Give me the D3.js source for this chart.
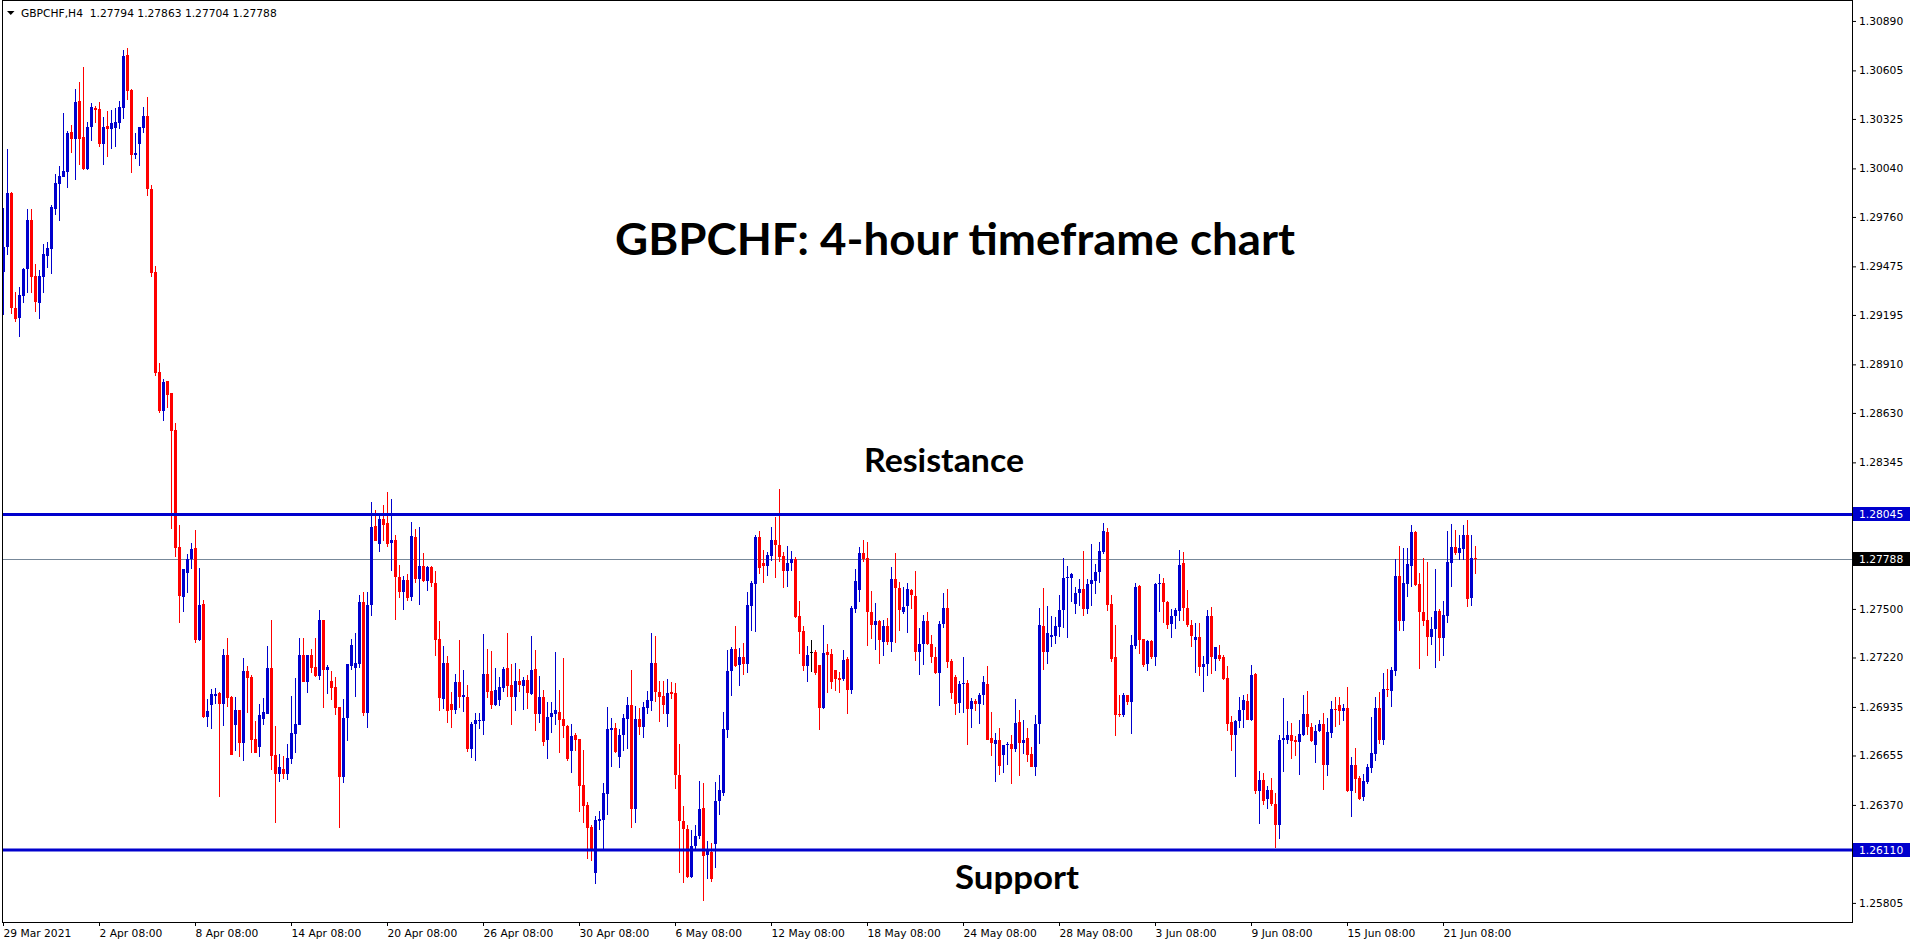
<!DOCTYPE html>
<html>
<head>
<meta charset="utf-8">
<script src="https://cdn.jsdelivr.net/npm/d3@7"></script>
<style>
  html, body { margin: 0; padding: 0; background: #ffffff; }
  svg { display: block; }
</style>
</head>
<body>
<svg id="chart" width="1916" height="946"></svg>
<script>
// ---------------- DATA ----------------
const symbolLabel = "GBPCHF,H4";
const lastQuote = [1.27794, 1.27863, 1.27704, 1.27788];
const chartTitle = "GBPCHF: 4-hour timeframe chart";
const resistanceLevel = 1.28045;
const supportLevel = 1.26110;
const currentPrice = 1.27788;

const opens = [
1.29443,1.29587,1.29898,1.29235,1.29178,1.29305,1.29461,1.29743,1.29420,1.29264,
1.29414,1.29535,1.29576,1.29806,1.29950,1.29991,1.30019,1.30250,1.30210,1.30429,
1.30221,1.30037,1.30279,1.30388,1.30383,1.30181,1.30285,1.30267,1.30273,1.30302,
1.30388,1.30694,1.30492,1.30117,1.30181,1.30273,1.30342,1.29921,1.29443,1.28866,
1.28642,1.28815,1.28745,1.28532,1.27858,1.27569,1.27708,1.27788,1.27852,1.27321,
1.27529,1.26877,1.26947,1.26999,1.27016,1.26953,1.27235,1.26993,1.26831,1.26918,
1.26728,1.27143,1.27108,1.26751,1.26705,1.26866,1.26895,1.27160,1.26658,1.26549,
1.26578,1.26549,1.26635,1.26780,1.26831,1.27235,1.27079,1.27235,1.27166,1.27114,
1.27437,1.27149,1.27085,1.27051,1.26935,1.26530,1.26872,1.27170,1.27160,1.27180,
1.27538,1.26902,1.27522,1.27981,1.27876,1.28021,1.27995,1.27882,1.27896,1.27683,
1.27597,1.27667,1.27568,1.27915,1.27671,1.27746,1.27661,1.27740,1.27647,1.27325,
1.26981,1.27186,1.26951,1.26915,1.27080,1.26991,1.26995,1.26693,1.26836,1.26852,
1.26852,1.27124,1.27025,1.26945,1.26975,1.27045,1.27158,1.27061,1.26995,1.27085,
1.27055,1.27090,1.27011,1.27154,1.26896,1.26991,1.26743,1.26876,1.26892,1.26906,
1.26866,1.26826,1.26683,1.26772,1.26749,1.26482,1.26367,1.26242,1.25977,1.26279,
1.26285,1.26434,1.26802,1.26816,1.26647,1.26772,1.26868,1.26945,1.26345,1.26866,
1.26822,1.26931,1.26971,1.27190,1.27021,1.26999,1.26896,1.27021,1.27015,1.26544,
1.26275,1.26232,1.25957,1.26132,1.26192,1.26355,1.26081,1.26096,1.26146,1.26395,
1.26440,1.26802,1.27140,1.27269,1.27174,1.27224,1.27180,1.27518,1.27641,1.27915,
1.27766,1.27750,1.27806,1.27898,1.27870,1.27806,1.27717,1.27762,1.27790,1.27458,
1.27373,1.27170,1.27250,1.27254,1.27174,1.26931,1.27250,1.27240,1.27146,1.27100,
1.27094,1.27210,1.27031,1.27502,1.27611,1.27820,1.27796,1.27484,1.27405,1.27428,
1.27309,1.27399,1.27309,1.27671,1.27621,1.27482,1.27518,1.27607,1.27574,1.27250,
1.27299,1.27432,1.27299,1.27224,1.27130,1.27415,1.27504,1.27200,1.27110,1.26955,
1.27065,1.27071,1.26921,1.26971,1.26951,1.27001,1.27065,1.26753,1.26723,1.26747,
1.26657,1.26713,1.26719,1.26693,1.26846,1.26729,1.26753,1.26663,1.26589,1.26836,
1.27399,1.27254,1.27339,1.27345,1.27393,1.27492,1.27677,1.27677,1.27528,1.27593,
1.27613,1.27498,1.27641,1.27661,1.27711,1.27826,1.27945,1.27528,1.27224,1.26896,
1.26888,1.27005,1.26961,1.27289,1.27631,1.27325,1.27180,1.27313,1.27224,1.27641,
1.27651,1.27542,1.27412,1.27458,1.27488,1.27762,1.27508,1.27405,1.27319,1.27339,
1.27166,1.27180,1.27462,1.27214,1.27236,1.27220,1.27100,1.26846,1.26772,1.26852,
1.26915,1.26971,1.26862,1.27124,1.26448,1.26514,1.26405,1.26454,1.26375,1.26252,
1.26743,1.26743,1.26772,1.26743,1.26733,1.26772,1.26892,1.26822,1.26717,1.26796,
1.26836,1.26603,1.26782,1.26921,1.26945,1.26912,1.26927,1.26450,1.26599,1.26524,
1.26415,1.26504,1.26583,1.26663,1.26927,1.26743,1.27037,1.27027,1.27140,1.27691,
1.27428,1.27643,1.27746,1.27945,1.27643,1.27484,1.27434,1.27339,1.27385,1.27488,
1.27333,1.27458,1.27766,1.27856,1.27820,1.27846,1.27925,1.27564,1.27794
];

const highs = [
1.29812,1.30152,1.29905,1.29328,1.29356,1.29466,1.29806,1.29806,1.29489,1.29454,
1.29604,1.29616,1.29829,1.30008,1.30054,1.30360,1.30256,1.30290,1.30498,1.30538,
1.30625,1.30308,1.30417,1.30400,1.30423,1.30336,1.30371,1.30377,1.30388,1.30429,
1.30723,1.30734,1.30498,1.30244,1.30279,1.30394,1.30452,1.29944,1.29478,1.28918,
1.28826,1.28815,1.28745,1.28572,1.27984,1.27731,1.27817,1.27881,1.27956,1.27737,
1.27552,1.26981,1.27039,1.27045,1.27022,1.27270,1.27333,1.26999,1.26993,1.26918,
1.27218,1.27172,1.27120,1.26855,1.26953,1.26987,1.27287,1.27437,1.26826,1.26664,
1.26653,1.26722,1.26999,1.27102,1.27333,1.27333,1.27235,1.27270,1.27333,1.27494,
1.27437,1.27177,1.27143,1.27108,1.26935,1.26981,1.27180,1.27325,1.27359,1.27578,
1.27597,1.27597,1.28118,1.28071,1.28055,1.28098,1.28174,1.28134,1.27925,1.27752,
1.27691,1.27701,1.28001,1.27959,1.27975,1.27822,1.27750,1.27746,1.27721,1.27428,
1.27289,1.27230,1.27021,1.27126,1.27319,1.27146,1.27061,1.26846,1.26898,1.26898,
1.27353,1.27269,1.27255,1.27158,1.27110,1.27166,1.27359,1.27180,1.27186,1.27154,
1.27106,1.27120,1.27343,1.27263,1.27116,1.27031,1.26961,1.26961,1.27250,1.27031,
1.27216,1.26832,1.26836,1.26782,1.26749,1.26687,1.26385,1.26256,1.26305,1.26335,
1.26494,1.26935,1.26872,1.26842,1.26808,1.26896,1.26995,1.27146,1.26941,1.26931,
1.26965,1.27025,1.27359,1.27343,1.27085,1.27087,1.27098,1.27080,1.27075,1.26719,
1.26361,1.26256,1.26226,1.26256,1.26508,1.26498,1.26162,1.26150,1.26504,1.26544,
1.26908,1.27265,1.27283,1.27403,1.27273,1.27303,1.27597,1.27661,1.27925,1.27951,
1.27842,1.27830,1.27975,1.28031,1.28194,1.27826,1.27860,1.27836,1.27800,1.27544,
1.27399,1.27285,1.27319,1.27265,1.27174,1.27408,1.27299,1.27269,1.27146,1.27134,
1.27263,1.27220,1.27518,1.27731,1.27856,1.27900,1.27886,1.27603,1.27532,1.27438,
1.27438,1.27448,1.27740,1.27822,1.27657,1.27627,1.27647,1.27617,1.27717,1.27389,
1.27464,1.27482,1.27349,1.27279,1.27428,1.27591,1.27617,1.27214,1.27120,1.27085,
1.27224,1.27090,1.26987,1.26981,1.27015,1.27114,1.27170,1.26908,1.26782,1.26812,
1.26713,1.26733,1.26772,1.26981,1.26915,1.26862,1.26816,1.26703,1.26886,1.27508,
1.27623,1.27518,1.27462,1.27452,1.27578,1.27796,1.27750,1.27707,1.27627,1.27671,
1.27832,1.27671,1.27872,1.27760,1.27886,1.27995,1.27965,1.27578,1.27408,1.27005,
1.27017,1.27005,1.27349,1.27651,1.27637,1.27325,1.27319,1.27319,1.27647,1.27701,
1.27677,1.27548,1.27502,1.27508,1.27840,1.27826,1.27607,1.27438,1.27418,1.27418,
1.27230,1.27494,1.27514,1.27283,1.27293,1.27234,1.27170,1.26882,1.26862,1.26991,
1.27001,1.27007,1.27178,1.27130,1.26568,1.26554,1.26478,1.26524,1.26438,1.26772,
1.26985,1.26852,1.26842,1.26768,1.26858,1.27001,1.27025,1.26842,1.26832,1.26858,
1.26898,1.26872,1.26971,1.26995,1.26995,1.26951,1.27051,1.26649,1.26697,1.26538,
1.26548,1.26607,1.26876,1.26995,1.27021,1.27130,1.27154,1.27166,1.27786,1.27862,
1.27850,1.27850,1.27985,1.27949,1.27707,1.27796,1.27770,1.27452,1.27731,1.27498,
1.27544,1.27949,1.27989,1.27955,1.27925,1.27985,1.28011,1.27925,1.27863
];

const lows = [
1.29195,1.29541,1.29201,1.29155,1.29068,1.29264,1.29322,1.29322,1.29212,1.29172,
1.29322,1.29466,1.29431,1.29772,1.29737,1.29991,1.29927,1.30129,1.29973,1.30060,
1.30031,1.30031,1.30198,1.30302,1.30164,1.30060,1.30106,1.30152,1.30164,1.30267,
1.30325,1.30435,1.30014,1.30094,1.30054,1.30244,1.29881,1.29414,1.28843,1.28630,
1.28584,1.28659,1.27961,1.27800,1.27419,1.27483,1.27592,1.27731,1.27304,1.27316,
1.26872,1.26820,1.26808,1.26953,1.26416,1.26826,1.26935,1.26658,1.26681,1.26647,
1.26624,1.26901,1.26670,1.26670,1.26647,1.26831,1.26895,1.26572,1.26266,1.26503,
1.26520,1.26514,1.26606,1.26670,1.26831,1.27079,1.27016,1.27131,1.27108,1.27091,
1.26929,1.27010,1.26976,1.26889,1.26238,1.26498,1.26739,1.27150,1.26991,1.27160,
1.26882,1.26816,1.27458,1.27890,1.27830,1.27894,1.27856,1.27717,1.27434,1.27564,
1.27492,1.27548,1.27548,1.27651,1.27524,1.27657,1.27603,1.27627,1.27230,1.26912,
1.26921,1.26842,1.26812,1.26892,1.26931,1.26906,1.26677,1.26643,1.26623,1.26808,
1.26772,1.26987,1.26925,1.26941,1.26941,1.27021,1.26991,1.26832,1.26912,1.27021,
1.26915,1.26921,1.27001,1.26796,1.26842,1.26709,1.26637,1.26782,1.26832,1.26669,
1.26753,1.26623,1.26554,1.26683,1.26329,1.26265,1.26061,1.26047,1.25914,1.26226,
1.26112,1.26311,1.26589,1.26669,1.26583,1.26683,1.26693,1.26236,1.26265,1.26772,
1.26753,1.26892,1.26912,1.26961,1.26848,1.26892,1.26822,1.26981,1.26460,1.25977,
1.25918,1.25947,1.25947,1.26116,1.26172,1.25818,1.25943,1.25928,1.26007,1.26311,
1.26419,1.26753,1.26997,1.27164,1.27057,1.27118,1.27130,1.27373,1.27369,1.27703,
1.27647,1.27687,1.27776,1.27677,1.27770,1.27621,1.27627,1.27717,1.27448,1.27240,
1.27144,1.27077,1.27134,1.27120,1.26802,1.26921,1.27015,1.27041,1.27027,1.27015,
1.27087,1.26896,1.27011,1.27478,1.27538,1.27772,1.27289,1.27325,1.27265,1.27184,
1.27230,1.27293,1.27250,1.27303,1.27375,1.27472,1.27363,1.27498,1.27200,1.27120,
1.27174,1.27293,1.27190,1.27126,1.26941,1.27389,1.27160,1.26981,1.26888,1.26902,
1.26902,1.26713,1.26816,1.26912,1.26836,1.26947,1.26743,1.26653,1.26504,1.26544,
1.26554,1.26599,1.26490,1.26673,1.26538,1.26663,1.26617,1.26587,1.26538,1.26723,
1.27150,1.27180,1.27283,1.27299,1.27339,1.27389,1.27333,1.27538,1.27472,1.27518,
1.27458,1.27468,1.27518,1.27587,1.27651,1.27816,1.27488,1.27194,1.26766,1.26876,
1.26876,1.26945,1.26778,1.27269,1.27240,1.27166,1.27140,1.27214,1.27170,1.27482,
1.27418,1.27385,1.27333,1.27383,1.27428,1.27428,1.27393,1.27279,1.27130,1.27116,
1.27021,1.27114,1.27124,1.27144,1.27200,1.27090,1.26796,1.26683,1.26530,1.26816,
1.26816,1.26862,1.26852,1.26434,1.26260,1.26369,1.26349,1.26361,1.26120,1.26176,
1.26558,1.26723,1.26637,1.26653,1.26540,1.26766,1.26776,1.26733,1.26609,1.26788,
1.26454,1.26534,1.26753,1.26822,1.26832,1.26852,1.26444,1.26299,1.26438,1.26399,
1.26395,1.26490,1.26554,1.26623,1.26723,1.26713,1.26991,1.26937,1.27116,1.27375,
1.27373,1.27568,1.27627,1.27631,1.27154,1.27399,1.27230,1.27293,1.27160,1.27200,
1.27230,1.27418,1.27627,1.27810,1.27780,1.27782,1.27512,1.27518,1.27704
];

const closes = [
1.29587,1.29898,1.29235,1.29172,1.29310,1.29461,1.29743,1.29414,1.29270,1.29420,
1.29547,1.29581,1.29818,1.29956,1.29996,1.30025,1.30244,1.30210,1.30423,1.30210,
1.30037,1.30279,1.30394,1.30377,1.30181,1.30279,1.30267,1.30302,1.30308,1.30394,
1.30688,1.30486,1.30117,1.30129,1.30279,1.30342,1.29921,1.29437,1.28861,1.28642,
1.28809,1.28734,1.28526,1.27852,1.27575,1.27731,1.27788,1.27846,1.27321,1.27523,
1.26877,1.26912,1.27010,1.27010,1.26953,1.27235,1.26987,1.26658,1.26918,1.26728,
1.27143,1.27102,1.26745,1.26670,1.26889,1.26906,1.27160,1.26653,1.26549,1.26589,
1.26549,1.26641,1.26785,1.26837,1.27235,1.27079,1.27235,1.27160,1.27114,1.27437,
1.27149,1.27166,1.27045,1.26930,1.26531,1.26872,1.27180,1.27293,1.27186,1.27538,
1.26902,1.27522,1.27975,1.27890,1.28021,1.27985,1.27876,1.27896,1.27683,1.27597,
1.27667,1.27564,1.27919,1.27671,1.27746,1.27661,1.27740,1.27647,1.27319,1.26987,
1.27186,1.26912,1.26915,1.27080,1.26991,1.27001,1.26693,1.26836,1.26858,1.26858,
1.27124,1.27021,1.26945,1.27035,1.27051,1.27154,1.27055,1.26995,1.27085,1.27061,
1.27090,1.27015,1.27150,1.26896,1.26991,1.26733,1.26876,1.26898,1.26915,1.26862,
1.26826,1.26637,1.26766,1.26743,1.26478,1.26363,1.26236,1.26112,1.26285,1.26291,
1.26438,1.26808,1.26816,1.26673,1.26776,1.26872,1.26945,1.26349,1.26866,1.26822,
1.26935,1.26975,1.27190,1.27021,1.26995,1.26947,1.27015,1.27011,1.26544,1.26275,
1.26232,1.25957,1.26132,1.26192,1.26349,1.26077,1.26106,1.25941,1.26395,1.26454,
1.26806,1.27140,1.27269,1.27170,1.27224,1.27180,1.27522,1.27647,1.27915,1.27737,
1.27746,1.27810,1.27898,1.27866,1.27802,1.27717,1.27766,1.27790,1.27452,1.27369,
1.27170,1.27236,1.27250,1.27130,1.26931,1.27244,1.27234,1.27080,1.27094,1.27090,
1.27204,1.27031,1.27508,1.27661,1.27820,1.27790,1.27484,1.27405,1.27428,1.27319,
1.27399,1.27309,1.27671,1.27621,1.27492,1.27514,1.27617,1.27578,1.27250,1.27299,
1.27432,1.27299,1.27224,1.27130,1.27415,1.27504,1.27194,1.27015,1.26951,1.27065,
1.27071,1.26921,1.26971,1.26951,1.27005,1.27077,1.26743,1.26727,1.26747,1.26593,
1.26713,1.26723,1.26693,1.26842,1.26729,1.26747,1.26657,1.26589,1.26838,1.27405,
1.27254,1.27363,1.27349,1.27399,1.27492,1.27677,1.27683,1.27701,1.27593,1.27617,
1.27498,1.27641,1.27667,1.27711,1.27832,1.27949,1.27524,1.27214,1.26888,1.26888,
1.27005,1.26965,1.27293,1.27627,1.27319,1.27174,1.27313,1.27220,1.27641,1.27651,
1.27538,1.27408,1.27462,1.27492,1.27756,1.27504,1.27405,1.27345,1.27339,1.27166,
1.27184,1.27462,1.27220,1.27279,1.27214,1.27094,1.26836,1.26772,1.26856,1.26915,
1.26975,1.26862,1.27120,1.26448,1.26514,1.26391,1.26454,1.26375,1.26252,1.26743,
1.26753,1.26772,1.26739,1.26733,1.26778,1.26892,1.26822,1.26737,1.26798,1.26836,
1.26603,1.26788,1.26921,1.26915,1.26912,1.26927,1.26450,1.26599,1.26518,1.26403,
1.26508,1.26587,1.26669,1.26927,1.26743,1.27037,1.27031,1.27146,1.27691,1.27428,
1.27651,1.27760,1.27945,1.27637,1.27482,1.27428,1.27339,1.27385,1.27488,1.27333,
1.27464,1.27770,1.27856,1.27822,1.27850,1.27925,1.27558,1.27792,1.27788
];

const priceTicks = [1.30890,1.30605,1.30325,1.30040,1.29760,1.29475,1.29195,1.28910,1.28630,
  1.28345,1.28065,1.27780,1.27500,1.27220,1.26935,1.26655,1.26370,1.26090,1.25805];

const timeTickBars = [0,24,48,72,96,120,144,168,192,216,240,264,288,312,336,360];
const timeTickLabels = ["29 Mar 2021","2 Apr 08:00","8 Apr 08:00","14 Apr 08:00","20 Apr 08:00",
  "26 Apr 08:00","30 Apr 08:00","6 May 08:00","12 May 08:00","18 May 08:00","24 May 08:00",
  "28 May 08:00","3 Jun 08:00","9 Jun 08:00","15 Jun 08:00","21 Jun 08:00"];

// ---------------- STYLE / LAYOUT ----------------
const W = 1916, H = 946;
const frame = { left: 2, top: 0, right: 1852, bottom: 922 };
const BULL = "#0000cd", BEAR = "#ff0000", DOJI = "#000000";
const LEVEL = "#0000cd", BIDLINE = "#778899";
const smallFont = "'DejaVu Sans', Verdana, sans-serif";
const bigFont = "Lato, 'Open Sans', sans-serif";

const N = closes.length;
const bars = d3.range(N).map(i => ({ i, o: opens[i], h: highs[i], l: lows[i], c: closes[i] }));

const svg = d3.select("#chart");
svg.append("rect").attr("width", W).attr("height", H).attr("fill", "#ffffff");

const x = d3.scaleBand().domain(d3.range(N)).range([1.5, 1.5 + 4 * N]).padding(0);
const y = d3.scaleLinear().domain([1.25695, 1.31005]).range([frame.bottom, 1]);

// bid line (behind candles)
svg.append("line")
  .attr("x1", frame.left).attr("x2", frame.right)
  .attr("y1", Math.round(y(currentPrice)) + 0.5).attr("y2", Math.round(y(currentPrice)) + 0.5)
  .attr("stroke", BIDLINE).attr("stroke-width", 1);

// candles
const colorOf = d => d.c > d.o ? BULL : (d.c < d.o ? BEAR : DOJI);
const cg = svg.append("g").attr("shape-rendering", "crispEdges");
cg.selectAll("line.wick").data(bars).join("line")
  .attr("class", "wick")
  .attr("x1", d => x(d.i) + 2).attr("x2", d => x(d.i) + 2)
  .attr("y1", d => y(Math.max(d.h, d.o, d.c)))
  .attr("y2", d => y(Math.min(d.l, d.o, d.c)))
  .attr("stroke", colorOf).attr("stroke-width", 1);
cg.selectAll("rect.body").data(bars).join("rect")
  .attr("class", "body")
  .attr("x", d => x(d.i) + 0.5)
  .attr("width", 3)
  .attr("y", d => y(Math.max(d.o, d.c)))
  .attr("height", d => Math.max(1, y(Math.min(d.o, d.c)) - y(Math.max(d.o, d.c))))
  .attr("fill", colorOf);

// support / resistance lines
[resistanceLevel, supportLevel].forEach(v => {
  svg.append("line")
    .attr("x1", frame.left).attr("x2", frame.right)
    .attr("y1", y(v)).attr("y2", y(v))
    .attr("stroke", LEVEL).attr("stroke-width", 3);
});

// frame
svg.append("rect")
  .attr("x", frame.left + 0.5).attr("y", frame.top + 0.5)
  .attr("width", frame.right - frame.left).attr("height", frame.bottom - frame.top)
  .attr("fill", "none").attr("stroke", "#000").attr("stroke-width", 1);

// price axis
const yAxis = d3.axisRight(y).tickValues(priceTicks).tickSize(4).tickPadding(3)
  .tickFormat(d3.format(".5f"));
svg.append("g")
  .attr("transform", `translate(${frame.right},0)`)
  .call(yAxis)
  .call(g => g.select(".domain").remove())
  .attr("font-family", smallFont).attr("font-size", 10.7).attr("color", "#000");

// time axis
const xAxis = d3.axisBottom(x).tickValues(timeTickBars).tickSize(4).tickPadding(3)
  .tickFormat((d, k) => timeTickLabels[k]);
const xg = svg.append("g")
  .attr("transform", `translate(0,${frame.bottom})`)
  .call(xAxis)
  .call(g => g.select(".domain").remove())
  .attr("font-family", smallFont).attr("font-size", 10.7).attr("color", "#000");
xg.selectAll(".tick text").attr("text-anchor", "start").attr("x", 0);

// price label boxes on the axis
const fmt5 = d3.format(".5f");
[[resistanceLevel, LEVEL], [currentPrice, "#000000"], [supportLevel, LEVEL]].forEach(([v, col]) => {
  const yy = Math.round(y(v));
  svg.append("rect").attr("x", frame.right + 1).attr("y", yy - 7)
    .attr("width", 57).attr("height", 14).attr("fill", col);
  svg.append("text").attr("x", frame.right + 7).attr("y", yy).attr("dy", "0.36em")
    .attr("font-family", smallFont).attr("font-size", 10.7).attr("fill", "#fff")
    .text(fmt5(v));
});

// header (symbol + OHLC)
svg.append("path").attr("d", "M7,11 L14.5,11 L10.75,15 Z").attr("fill", "#000");
svg.append("text").attr("x", 21).attr("y", 17)
  .attr("font-family", smallFont).attr("font-size", 10.7).attr("fill", "#000")
  .style("white-space", "pre")
  .text(symbolLabel + "  " + lastQuote.map(fmt5).join(" "));

// annotations
svg.append("text").attr("x", 615).attr("y", 255)
  .attr("font-family", bigFont).attr("font-weight", 700).attr("font-size", 43)
  .attr("textLength", 680).attr("lengthAdjust", "spacingAndGlyphs")
  .attr("fill", "#000").text(chartTitle);
svg.append("text").attr("x", 864).attr("y", y(resistanceLevel) - 42)
  .attr("font-family", bigFont).attr("font-weight", 700).attr("font-size", 33)
  .attr("textLength", 160).attr("lengthAdjust", "spacingAndGlyphs")
  .attr("fill", "#000").text("Resistance");
svg.append("text").attr("x", 955).attr("y", y(supportLevel) + 39)
  .attr("font-family", bigFont).attr("font-weight", 700).attr("font-size", 33)
  .attr("textLength", 124).attr("lengthAdjust", "spacingAndGlyphs")
  .attr("fill", "#000").text("Support");
</script>
</body>
</html>
